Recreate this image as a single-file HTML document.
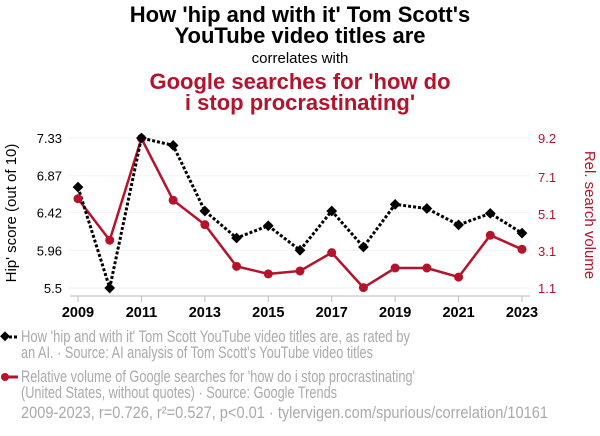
<!DOCTYPE html>
<html><head><meta charset="utf-8"><style>
body{margin:0;background:#fff;width:600px;height:436px;overflow:hidden;font-family:"Liberation Sans",Arial,sans-serif}
svg{display:block}
</style></head><body>
<svg width="600" height="436" font-family="Liberation Sans, Arial, sans-serif">
<g text-anchor="middle">
<text x="300" y="22" font-size="22" font-weight="bold" fill="#000">How 'hip and with it' Tom Scott's</text>
<text x="300" y="43" font-size="22" font-weight="bold" fill="#000">YouTube video titles are</text>
<text x="300" y="63" font-size="15" fill="#000">correlates with</text>
<text x="300" y="89" font-size="22" font-weight="bold" fill="#b5132b">Google searches for 'how do</text>
<text x="300" y="110" font-size="22" font-weight="bold" fill="#b5132b">i stop procrastinating'</text>
</g>
<g id="grid"></g>
<g id="axes"></g>
<g id="series"></g>
<text transform="translate(16,213) rotate(-90)" text-anchor="middle" font-size="15" fill="#000">Hip' score (out of 10)</text>
<text transform="translate(585,215) rotate(90)" text-anchor="middle" font-size="15" fill="#b5132b">Rel. search volume</text>
<g font-size="16.5" fill="#aaa">
<line x1="4" y1="337" x2="18" y2="337" stroke="#000" stroke-width="3" stroke-dasharray="3,2"/>
<rect x="1" y="333" width="7" height="7" transform="rotate(45 5 337)" fill="#000"/>
<text x="21" y="342" textLength="389" lengthAdjust="spacingAndGlyphs">How 'hip and with it' Tom Scott YouTube video titles are, as rated by</text>
<text x="21" y="358" textLength="352" lengthAdjust="spacingAndGlyphs">an AI. · Source: AI analysis of Tom Scott's YouTube video titles</text>
<line x1="4" y1="377" x2="18" y2="377" stroke="#b5132b" stroke-width="3"/>
<circle cx="5" cy="377" r="4" fill="#b5132b"/>
<text x="21" y="382" textLength="394" lengthAdjust="spacingAndGlyphs">Relative volume of Google searches for 'how do i stop procrastinating'</text>
<text x="21" y="398" textLength="316" lengthAdjust="spacingAndGlyphs">(United States, without quotes) · Source: Google Trends</text>
<text x="21" y="418" textLength="527" lengthAdjust="spacingAndGlyphs">2009-2023, r=0.726, r²=0.527, p&lt;0.01 · tylervigen.com/spurious/correlation/10161</text>
</g>
</svg>
<script>
const years=[2009,2010,2011,2012,2013,2014,2015,2016,2017,2018,2019,2020,2021,2022,2023];
const hipScore=[6.73,5.50,7.33,7.24,6.44,6.11,6.26,5.96,6.44,6.00,6.52,6.47,6.27,6.41,6.17];
const searchVolume=[5.92,3.68,9.18,5.84,4.52,2.27,1.86,2.02,3.01,1.12,2.18,2.18,1.69,3.95,3.19];
const leftTicks=[5.5,5.96,6.42,6.87,7.33];
const rightTicks=[1.1,3.1,5.1,7.1,9.2];
const xTickYears=[2009,2011,2013,2015,2017,2019,2021,2023];
const NS='http://www.w3.org/2000/svg';
const X=y=>78+(y-2009)*(522-78)/14;
const YL=v=>288-(v-5.5)*(150/1.83);
const YR=v=>288-(v-1.1)*(150/8.1);
function mk(t,a,p){const e=document.createElementNS(NS,t);for(const k in a)e.setAttribute(k,a[k]);p.appendChild(e);return e;}
const grid=document.getElementById('grid'),axes=document.getElementById('axes'),ser=document.getElementById('series');
leftTicks.forEach((v,i)=>{
 const l=mk('line',{x1:68,x2:530,y1:YL(v),y2:YL(v),stroke:'#f2f2f2','stroke-width':1},grid);
 
 
 const t=mk('text',{x:62,y:YL(v)+5,'text-anchor':'end','font-size':13,fill:'#000'},axes);t.textContent=v;
 
 
});
rightTicks.forEach(v=>{
 const t=mk('text',{x:538,y:YR(v)+5,'font-size':13,fill:'#b5132b'},axes);t.textContent=v;
 
 
});
const ax=mk('line',{x1:70,x2:530,y1:296,y2:296,stroke:'#bbb','stroke-width':1},axes);


xTickYears.forEach(y=>{
 mk('line',{x1:X(y),x2:X(y),y1:296,y2:302,stroke:'#bbb'},axes);
 const t=mk('text',{x:X(y),y:317,'text-anchor':'middle','font-size':14.5,'font-weight':'bold',fill:'#000'},axes);t.textContent=y;
 
 
});
const rp=mk('polyline',{points:years.map((y,i)=>X(y)+','+YR(searchVolume[i])).join(' '),fill:'none',stroke:'#b5132b','stroke-width':2.5},ser);


const bp=mk('polyline',{points:years.map((y,i)=>X(y)+','+YL(hipScore[i])).join(' '),fill:'none',stroke:'#000','stroke-width':3,'stroke-dasharray':'3,2'},ser);


years.forEach((y,i)=>{
 const c=mk('circle',{cx:X(y),cy:YR(searchVolume[i]),r:4.5,fill:'#b5132b'},ser);
 
 
});
years.forEach((y,i)=>{
 const cx=X(y),cy=YL(hipScore[i]);
 const d=mk('rect',{x:cx-3.8,y:cy-3.8,width:7.6,height:7.6,transform:`rotate(45 ${cx} ${cy})`,fill:'#000'},ser);
 
 
});
</script>
</body></html>
